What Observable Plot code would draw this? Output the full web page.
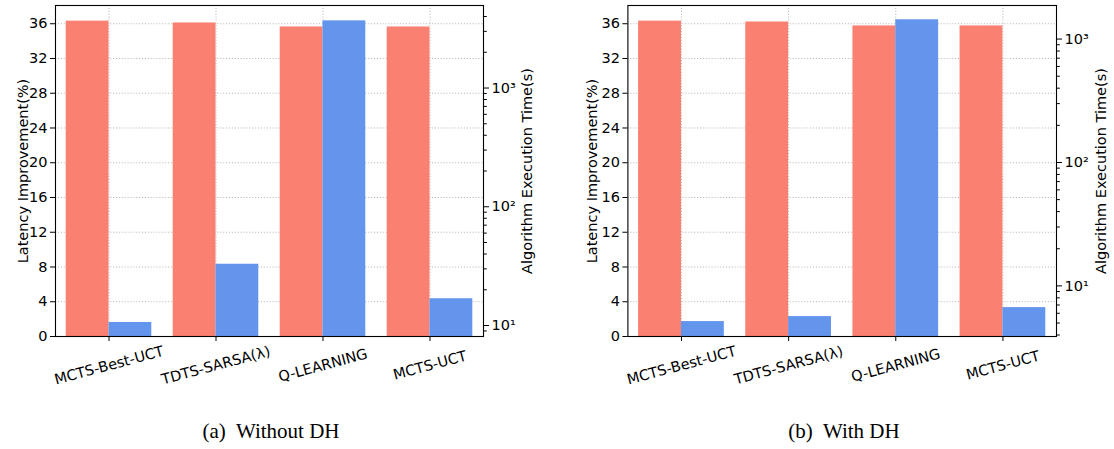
<!DOCTYPE html>
<html><head><meta charset="utf-8">
<script src="https://cdn.jsdelivr.net/npm/d3@7"></script>
<script src="https://cdn.jsdelivr.net/npm/@observablehq/plot@0.6"></script>
<style>
html,body{margin:0;padding:0;background:#fff;}
#root{position:relative;width:1114px;height:449px;overflow:hidden;font-family:"DejaVu Sans";}
.layer{position:absolute;top:0;}
.layer svg{display:block;}
.cap{position:absolute;top:421px;font-family:"Liberation Serif";font-size:21px;line-height:20px;white-space:pre;transform:translateX(-50%);color:#000;}
</style></head>
<body><div id="root"></div>
<script>
// ---- data ----
const categories = ["MCTS-Best-UCT", "TDTS-SARSA(\u03bb)", "Q-LEARNING", "MCTS-UCT"];
const latencyWithoutDH = [36.3, 36.09, 35.63, 35.63];   // Latency Improvement (%)
const timeWithoutDH    = [10.6, 32.8, 3680, 16.8];     // Algorithm Execution Time (s)
const latencyWithDH    = [36.3, 36.2, 35.75, 35.75];
const timeWithDH       = [5.14, 5.64, 1433, 6.67];
const latencyTicks = [0, 4, 8, 12, 16, 20, 24, 28, 32, 36];
const timeTicks = [10, 100, 1000];
const timeTickLabels = ["10\u00b9", "10\u00b2", "10\u00b3"];
const captions = ["(a)  Without DH", "(b)  With DH"];
const latencyLabel = "Latency Improvement(%)";
const timeLabel = "Algorithm Execution Time(s)";

// ---- styles ----
const RED = "#FA8072", BLUE = "#6495ED", GRID = "#b0b0b0";
const BAR_W = 0.4;
const W = 557, H = 400, MT = 5, MB = 64;
const FONT = {fontFamily: "DejaVu Sans", fontSize: "14.5px", background: "transparent", color: "black", overflow: "visible"};

const panels = [
  {left: 0,   ml: 55,   mr: 74, lat: latencyWithoutDH, time: timeWithoutDH, latMax: 38.1, timeDomain: [8.08, 4954], cap: captions[0], capX: 271, ylo: 38, yro: 48},
  {left: 557, ml: 70.4, mr: 58, lat: latencyWithDH,    time: timeWithDH,    latMax: 38.1, timeDomain: [3.89, 1871], cap: captions[1], capX: 844, ylo: 41, yro: 49}
];

function minorTicks([lo, hi]) {
  const out = [];
  for (let e = Math.floor(Math.log10(lo)); e <= Math.ceil(Math.log10(hi)); e++)
    for (let m = 2; m <= 9; m++) { const v = m * 10 ** e; if (v >= lo && v <= hi) out.push(v); }
  return out;
}

const root = document.getElementById("root");
for (const p of panels) {
  const rows = categories.map((c, i) => ({i, cat: c, lat: p.lat[i], time: p.time[i]}));
  const idx = categories.map((_, i) => i);

  const base = Plot.plot({
    width: W, height: H, marginTop: MT, marginBottom: MB, marginLeft: p.ml, marginRight: p.mr,
    style: FONT,
    x: {type: "linear", domain: [-0.5, categories.length - 0.5]},
    y: {domain: [0, p.latMax]},
    marks: [
      Plot.gridY(latencyTicks, {stroke: GRID, strokeOpacity: 1, strokeWidth: 0.9, strokeDasharray: "1.1,1.8"}),
      Plot.gridX(idx, {stroke: GRID, strokeOpacity: 1, strokeWidth: 0.9, strokeDasharray: "1.1,1.8"}),
      Plot.rectY(rows, {x1: d => d.i - BAR_W, x2: d => d.i, y: "lat", fill: RED}),
      Plot.axisY(latencyTicks, {anchor: "left", tickSize: 5, tickPadding: 3, stroke: "black", fill: "black",
        label: latencyLabel, labelAnchor: "center", labelArrow: "none", labelOffset: p.ylo}),
      Plot.axisX(idx, {anchor: "bottom", tickFormat: i => categories[i], tickRotate: -15, textAnchor: "middle",
        tickSize: 5, tickPadding: 24, stroke: "black", fill: "black", label: null})
    ]
  });

  const tdom = p.timeDomain;
  const over = Plot.plot({
    width: W, height: H, marginTop: MT, marginBottom: MB, marginLeft: p.ml, marginRight: p.mr,
    style: FONT,
    x: {type: "linear", domain: [-0.5, categories.length - 0.5], axis: null},
    y: {type: "log", domain: tdom},
    marks: [
      Plot.rectY(rows, {x1: d => d.i, x2: d => d.i + BAR_W, y1: () => tdom[0], y2: "time", fill: BLUE}),
      Plot.axisY(minorTicks(tdom), {anchor: "right", tickSize: 2.8, tickFormat: () => "", stroke: "black", label: null}),
      Plot.axisY(timeTicks, {anchor: "right", tickSize: 5, tickPadding: 3, stroke: "black", fill: "black",
        tickFormat: d => timeTickLabels[timeTicks.indexOf(d)],
        label: timeLabel, labelAnchor: "center", labelArrow: "none", labelOffset: p.yro}),
      Plot.frame({stroke: "black", strokeWidth: 1.1})
    ]
  });

  for (const svg of [base, over]) {
    const d = document.createElement("div");
    d.className = "layer";
    d.style.left = p.left + "px";
    d.appendChild(svg);
    root.appendChild(d);
  }
  const c = document.createElement("div");
  c.className = "cap";
  c.style.left = p.capX + "px";
  c.textContent = p.cap;
  root.appendChild(c);
}
</script>
</body></html>
